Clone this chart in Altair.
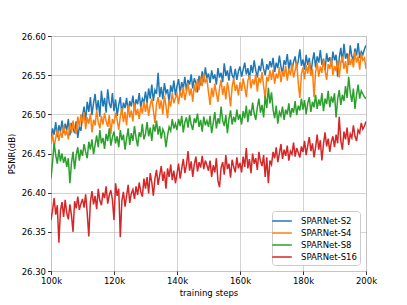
import altair as alt
import pandas as pd

series_names = ["SPARNet-S2", "SPARNet-S4", "SPARNet-S8", "SPARNet-S16"]
series_colors = ["#1f77b4", "#ff7f0e", "#2ca02c", "#d62728"]

s2 = [
    26.468, 26.482, 26.474, 26.490, 26.471, 26.486, 26.478, 26.492, 26.476, 26.488, 26.480, 26.494, 26.473, 26.489, 26.482, 26.476, 26.491, 26.470, 26.484, 26.479,
    26.498, 26.510, 26.492, 26.516, 26.503, 26.522, 26.499, 26.514, 26.526, 26.505, 26.518, 26.497, 26.530, 26.510, 26.521, 26.502, 26.532, 26.514, 26.508, 26.527,
    26.504, 26.519, 26.498, 26.512, 26.522, 26.500, 26.515, 26.508, 26.521, 26.503, 26.517, 26.510, 26.524, 26.506, 26.519, 26.513, 26.527, 26.509, 26.520, 26.515,
    26.529, 26.514, 26.533, 26.520, 26.538, 26.517, 26.531, 26.526, 26.553, 26.522, 26.535, 26.519, 26.540, 26.527, 26.532, 26.515, 26.537, 26.528, 26.543, 26.524,
    26.536, 26.545, 26.527, 26.541, 26.533, 26.548, 26.530, 26.544, 26.538, 26.551, 26.533, 26.546, 26.540, 26.528, 26.549, 26.537, 26.555, 26.541, 26.560, 26.546,
    26.552, 26.540, 26.556, 26.545, 26.551, 26.538, 26.559, 26.547, 26.553, 26.541, 26.565, 26.549, 26.556, 26.543, 26.562, 26.550, 26.546, 26.558, 26.544, 26.555,
    26.561, 26.548, 26.557, 26.566, 26.551, 26.559, 26.545, 26.563, 26.553, 26.569, 26.556, 26.547, 26.562, 26.555, 26.571, 26.558, 26.550, 26.564, 26.557, 26.568,
    26.560, 26.572, 26.554, 26.566, 26.559, 26.575, 26.561, 26.552, 26.569, 26.563, 26.577, 26.558, 26.570, 26.556, 26.567, 26.574, 26.560, 26.568, 26.583, 26.562,
    26.570, 26.557, 26.576, 26.563, 26.572, 26.551, 26.568, 26.579, 26.560, 26.574, 26.566, 26.582, 26.563, 26.571, 26.556, 26.578, 26.567, 26.573, 26.561, 26.580,
    26.569, 26.576, 26.548, 26.572, 26.585, 26.566, 26.590, 26.571, 26.578, 26.563, 26.588, 26.574, 26.569, 26.584, 26.575, 26.591, 26.572, 26.580, 26.576, 26.583, 26.588,
]

s4 = [
    26.462, 26.475, 26.458, 26.470, 26.481, 26.466, 26.478, 26.470, 26.486, 26.473, 26.480, 26.468, 26.489, 26.476, 26.492, 26.481, 26.475, 26.497, 26.484, 26.500,
    26.489, 26.503, 26.481, 26.496, 26.488, 26.501, 26.477, 26.493, 26.486, 26.505, 26.490, 26.482, 26.498, 26.487, 26.502, 26.491, 26.484, 26.499, 26.475, 26.494,
    26.488, 26.502, 26.493, 26.480, 26.497, 26.508, 26.490, 26.503, 26.486, 26.512, 26.496, 26.505, 26.491, 26.515, 26.499, 26.507, 26.494, 26.510, 26.501, 26.517,
    26.503, 26.515, 26.498, 26.512, 26.520, 26.505, 26.489, 26.513, 26.522, 26.507, 26.518, 26.500, 26.524, 26.511, 26.495, 26.519, 26.510, 26.527, 26.514, 26.521,
    26.526, 26.513, 26.530, 26.521, 26.535, 26.518, 26.529, 26.540, 26.524, 26.533, 26.516, 26.538, 26.528, 26.545, 26.531, 26.548, 26.536, 26.553, 26.541, 26.545,
    26.528, 26.512, 26.534, 26.522, 26.539, 26.527, 26.516, 26.533, 26.544, 26.525, 26.536, 26.519, 26.541, 26.529, 26.510, 26.535, 26.546, 26.530, 26.538, 26.524,
    26.541, 26.530, 26.546, 26.535, 26.522, 26.543, 26.550, 26.533, 26.545, 26.538, 26.551, 26.529, 26.547, 26.540, 26.554, 26.536, 26.520, 26.548, 26.542, 26.556,
    26.544, 26.557, 26.539, 26.552, 26.546, 26.560, 26.541, 26.555, 26.548, 26.562, 26.543, 26.558, 26.550, 26.564, 26.547, 26.556, 26.566, 26.540, 26.521, 26.551,
    26.560, 26.545, 26.563, 26.552, 26.567, 26.549, 26.558, 26.522, 26.554, 26.566, 26.548, 26.561, 26.553, 26.570, 26.556, 26.544, 26.564, 26.558, 26.572, 26.550,
    26.562, 26.555, 26.569, 26.547, 26.566, 26.574, 26.558, 26.568, 26.552, 26.577, 26.563, 26.571, 26.560, 26.580, 26.566, 26.574, 26.557, 26.578, 26.569, 26.572, 26.558,
]

s8 = [
    26.418, 26.440, 26.463, 26.448, 26.437, 26.455, 26.440, 26.450, 26.438, 26.446, 26.433, 26.444, 26.412, 26.438, 26.452, 26.430, 26.448, 26.458, 26.441, 26.455,
    26.447, 26.462, 26.452, 26.444, 26.465, 26.455, 26.468, 26.449, 26.461, 26.473, 26.458, 26.480, 26.463, 26.470, 26.456, 26.475, 26.466, 26.482, 26.460, 26.471,
    26.478, 26.463, 26.472, 26.458, 26.480, 26.467, 26.474, 26.455, 26.469, 26.482, 26.461, 26.476, 26.466, 26.485, 26.470, 26.459, 26.477, 26.471, 26.488, 26.468,
    26.475, 26.490, 26.472, 26.483, 26.466, 26.487, 26.478, 26.492, 26.474, 26.485, 26.469, 26.481, 26.476, 26.458, 26.473, 26.484, 26.479, 26.494, 26.482, 26.488,
    26.480, 26.494, 26.485, 26.498, 26.477, 26.490, 26.496, 26.483, 26.499, 26.487, 26.480, 26.495, 26.489, 26.501, 26.484, 26.493, 26.478, 26.497, 26.486, 26.492,
    26.484, 26.498, 26.476, 26.489, 26.503, 26.482, 26.495, 26.488, 26.510, 26.492, 26.485, 26.499, 26.476, 26.494, 26.505, 26.487, 26.497, 26.490, 26.506, 26.493,
    26.500, 26.487, 26.504, 26.495, 26.511, 26.490, 26.506, 26.498, 26.515, 26.501, 26.493, 26.509, 26.520, 26.502, 26.512, 26.496, 26.524, 26.508, 26.534, 26.514,
    26.528, 26.506, 26.495, 26.511, 26.488, 26.503, 26.498, 26.510, 26.493, 26.506, 26.500, 26.514, 26.496, 26.508, 26.502, 26.517, 26.499, 26.511, 26.505, 26.520,
    26.506, 26.518, 26.500, 26.514, 26.522, 26.503, 26.516, 26.509, 26.525, 26.507, 26.519, 26.511, 26.527, 26.504, 26.520, 26.513, 26.530, 26.509, 26.523, 26.515,
    26.527, 26.496, 26.519, 26.531, 26.512, 26.525, 26.517, 26.536, 26.521, 26.548, 26.528, 26.516, 26.533, 26.507, 26.525, 26.538, 26.520, 26.530, 26.526, 26.522, 26.520,
]

s16 = [
    26.365, 26.378, 26.393, 26.372, 26.384, 26.336, 26.377, 26.388, 26.369, 26.391, 26.374, 26.366, 26.385, 26.371, 26.350, 26.389, 26.380, 26.395, 26.378, 26.386,
    26.392, 26.381, 26.398, 26.374, 26.344, 26.388, 26.402, 26.385, 26.396, 26.379, 26.405, 26.390, 26.384, 26.400, 26.393, 26.408, 26.386, 26.397, 26.403, 26.391,
    26.365, 26.412, 26.396, 26.405, 26.343, 26.390, 26.401, 26.382, 26.396, 26.410, 26.387, 26.399, 26.404, 26.392, 26.408, 26.397, 26.413, 26.401, 26.395, 26.418,
    26.405, 26.420, 26.399, 26.425, 26.413, 26.396, 26.418, 26.429, 26.410, 26.422, 26.434, 26.415, 26.427, 26.405, 26.431, 26.420, 26.436, 26.416, 26.428, 26.412,
    26.424, 26.437, 26.418, 26.431, 26.443, 26.425, 26.435, 26.453, 26.428, 26.440, 26.420, 26.436, 26.446, 26.427, 26.439, 26.432, 26.447, 26.430, 26.441, 26.435,
    26.428, 26.441, 26.420, 26.435, 26.426, 26.444, 26.415, 26.407, 26.432, 26.439, 26.423, 26.448, 26.430, 26.437, 26.419, 26.442, 26.433, 26.426, 26.445, 26.431,
    26.438, 26.426, 26.446, 26.433, 26.457, 26.431, 26.443, 26.425, 26.450, 26.437, 26.444, 26.429, 26.452, 26.440, 26.434, 26.448, 26.420, 26.445, 26.412, 26.441,
    26.436, 26.452, 26.444, 26.458, 26.439, 26.450, 26.462, 26.443, 26.455, 26.447, 26.460, 26.441, 26.453, 26.449, 26.464, 26.446, 26.457, 26.451, 26.445, 26.459,
    26.452, 26.466, 26.448, 26.460, 26.471, 26.453, 26.463, 26.445, 26.458, 26.474, 26.455, 26.467, 26.441, 26.462, 26.477, 26.459, 26.469, 26.452, 26.465, 26.472,
    26.458, 26.474, 26.463, 26.497, 26.466, 26.455, 26.478, 26.468, 26.483, 26.461, 26.475, 26.470, 26.486, 26.472, 26.466, 26.480, 26.476, 26.489, 26.481, 26.485, 26.491,
]

x_ticks = [100000, 120000, 140000, 160000, 180000, 200000]
y_ticks = [26.30, 26.35, 26.40, 26.45, 26.50, 26.55, 26.60]

rows = []
for name, vals in zip(series_names, [s2, s4, s8, s16]):
    for i, v in enumerate(vals):
        rows.append({"step": 100000 + 500 * i, "psnr": v, "model": name})
df = pd.DataFrame(rows)

font = "DejaVu Sans"

common_axis = dict(
    grid=True,
    gridColor="#b0b0b0",
    gridWidth=0.8,
    gridOpacity=0.7,
    tickColor="black",
    tickSize=3.5,
    tickWidth=0.8,
    domain=False,
    labelFont=font,
    labelFontSize=8.5,
    labelColor="black",
    labelPadding=2,
    labelFlush=False,
    labelOverlap=False,
    titleFont=font,
    titleFontSize=8.5,
    titleFontWeight="normal",
    titleColor="black",
)

chart = (
    alt.Chart(df)
    .mark_line(strokeWidth=1.5, clip=True)
    .encode(
        x=alt.X(
            "step:Q",
            scale=alt.Scale(domain=[100000, 200000], nice=False),
            axis=alt.Axis(
                values=x_ticks,
                labelExpr="datum.value / 1000 + 'k'",
                title="training steps",
                titlePadding=3,
                **common_axis,
            ),
        ),
        y=alt.Y(
            "psnr:Q",
            scale=alt.Scale(domain=[26.30, 26.60], nice=False, zero=False),
            axis=alt.Axis(
                values=y_ticks,
                format=".2f",
                title="PSNR(dB)",
                titlePadding=5,
                **common_axis,
            ),
        ),
        color=alt.Color(
            "model:N",
            scale=alt.Scale(domain=series_names, range=series_colors),
            legend=alt.Legend(
                title=None,
                orient="none",
                legendX=221,
                legendY=175,
                symbolType="M-1.6,0L1.6,0",
                symbolStrokeWidth=1.5,
                symbolSize=150,
                labelFont=font,
                labelFontSize=8.5,
                labelColor="black",
                fillColor="white",
                strokeColor="#cccccc",
                padding=3,
                cornerRadius=3,
                rowPadding=0,
                labelOffset=12,
            ),
        ),
        order=alt.Order("step:Q"),
    )
    .properties(
        width=315,
        height=235,
        padding={"left": 43, "top": 28, "right": 20, "bottom": 32},
        autosize=alt.AutoSizeParams(type="none"),
    )
    .configure_view(stroke="black", strokeWidth=1)
    .configure(background="white")
)

chart.save("out.html", embed_options={"renderer": "svg", "actions": False})
